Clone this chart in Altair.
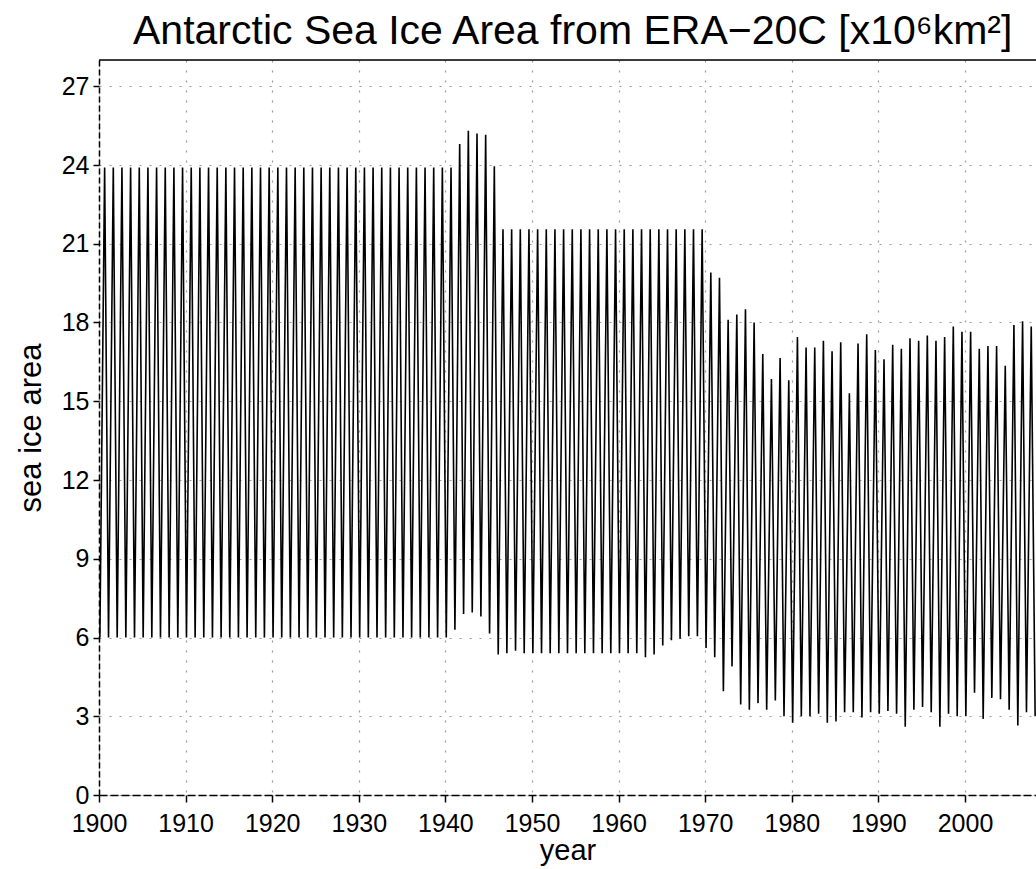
import altair as alt
import pandas as pd

# Annual minimum (Feb) of sea ice area, years 1900..2008
min_years = list(range(1900, 2009))
min_values = [
    6.0, 6.0, 6.0, 6.0, 6.0, 6.0, 6.0, 6.0, 6.0, 6.0,   # 1900-1909
    6.0, 6.0, 6.0, 6.0, 6.0, 6.0, 6.0, 6.0, 6.0, 6.0,   # 1910-1919
    6.0, 6.0, 6.0, 6.0, 6.0, 6.0, 6.0, 6.0, 6.0, 6.0,   # 1920-1929
    6.0, 6.0, 6.0, 6.0, 6.0, 6.0, 6.0, 6.0, 6.0, 6.0,   # 1930-1939
    6.0, 6.3, 6.9, 6.95, 6.8, 6.15, 5.35, 5.4, 5.5, 5.4,  # 1940-1949
    5.4, 5.4, 5.4, 5.4, 5.4, 5.4, 5.4, 5.4, 5.4, 5.4,   # 1950-1959
    5.4, 5.4, 5.4, 5.25, 5.35, 5.7, 5.9, 5.95, 6.05, 6.05,  # 1960-1969
    5.6, 5.25, 3.95, 4.9, 3.45, 3.25, 3.5, 3.25, 3.6, 3.0,  # 1970-1979
    2.75, 3.0, 3.0, 3.1, 2.75, 2.8, 3.15, 3.15, 2.95, 3.15,  # 1980-1989
    3.1, 3.2, 3.1, 2.6, 3.25, 3.35, 3.15, 2.6, 3.1, 3.0,  # 1990-1999
    3.0, 3.9, 2.9, 3.7, 3.65, 3.25, 2.65, 3.15, 3.0,      # 2000-2008
]

# Annual maximum (Aug/Sep) of sea ice area, years 1900..2007
max_years = list(range(1900, 2008))
max_values = [
    23.9, 23.9, 23.9, 23.9, 23.9, 23.9, 23.9, 23.9, 23.9, 23.9,  # 1900-1909
    23.9, 23.9, 23.9, 23.9, 23.9, 23.9, 23.9, 23.9, 23.9, 23.9,  # 1910-1919
    23.9, 23.9, 23.9, 23.9, 23.9, 23.9, 23.9, 23.9, 23.9, 23.9,  # 1920-1929
    23.9, 23.9, 23.9, 23.9, 23.9, 23.9, 23.9, 23.9, 23.9, 23.9,  # 1930-1939
    23.9, 24.8, 25.3, 25.2, 25.15, 23.95, 21.55, 21.55, 21.55, 21.55,  # 1940-1949
    21.55, 21.55, 21.55, 21.55, 21.55, 21.55, 21.55, 21.55, 21.55, 21.55,  # 1950-1959
    21.55, 21.55, 21.55, 21.55, 21.55, 21.55, 21.55, 21.55, 21.55, 21.55,  # 1960-1969
    19.9, 19.7, 18.1, 18.3, 18.5, 18.0, 16.8, 15.85, 16.65, 15.8,  # 1970-1979
    17.45, 17.05, 17.05, 17.3, 16.9, 17.25, 15.3, 17.2, 17.55, 16.95,  # 1980-1989
    16.6, 17.15, 17.0, 17.4, 17.3, 17.5, 17.3, 17.45, 17.85, 17.65,  # 1990-1999
    17.65, 17.0, 17.1, 17.1, 16.35, 17.9, 18.05, 17.85,  # 2000-2007
]

MIN_PHASE = 0.1   # fraction of year when the minimum occurs
MAX_PHASE = 0.65  # fraction of year when the maximum occurs

rows = [{"t": y + MIN_PHASE, "v": v} for y, v in zip(min_years, min_values)]
rows += [{"t": y + MAX_PHASE, "v": v} for y, v in zip(max_years, max_values)]
df = pd.DataFrame(rows).sort_values("t").reset_index(drop=True)

x_ticks = [1900, 1910, 1920, 1930, 1940, 1950, 1960, 1970, 1980, 1990, 2000]
y_ticks = [0, 3, 6, 9, 12, 15, 18, 21, 24, 27]

W, H = 937, 735
FONT = "Liberation Sans"

line = alt.Chart(df).mark_line(color="black", strokeWidth=1.6, clip=True).encode(
    x=alt.X("t:Q",
            scale=alt.Scale(domain=[1900, 2008.2], nice=False, zero=False),
            axis=alt.Axis(values=x_ticks, format="d", title="year",
                          grid=True, gridDash=[2, 8], gridColor="#9a9a9a", gridWidth=1.2,
                          domainColor="black", domainDash=[8, 3], domainWidth=1.5,
                          tickColor="black", tickSize=7, tickWidth=1.5,
                          labelFont=FONT, labelFontSize=25, labelColor="black",
                          labelPadding=9, labelFlush=False,
                          titleFont=FONT, titleFontSize=29, titleFontWeight="normal",
                          titleColor="black", titlePadding=0)),
    y=alt.Y("v:Q",
            scale=alt.Scale(domain=[0, 28], nice=False),
            axis=alt.Axis(values=y_ticks, title="sea ice area",
                          grid=True, gridDash=[2, 8], gridColor="#9a9a9a", gridWidth=1.2,
                          domainColor="black", domainDash=[6, 3], domainWidth=1.5,
                          tickColor="black", tickSize=6, tickWidth=1.5,
                          labelFont=FONT, labelFontSize=25, labelColor="black",
                          labelPadding=4,
                          titleFont=FONT, titleFontSize=31, titleFontWeight="normal",
                          titleColor="black", titlePadding=14)),
)

top_border = alt.Chart(pd.DataFrame({"a": [0]})).mark_rule(color="black", strokeWidth=1.6).encode(
    x=alt.value(0), x2=alt.value(W), y=alt.value(0)
)

chart = alt.layer(line, top_border).properties(
    width=W, height=H,
    title=alt.TitleParams(
        text="Antarctic Sea Ice Area from ERA−20C [x10⁶km²]",
        font=FONT, fontSize=41, fontWeight="normal", color="black",
        anchor="start", frame="group", dx=34, offset=6,
    ),
    autosize=alt.AutoSizeParams(type="none"),
    padding={"left": 99, "top": 60, "right": 0, "bottom": 74},
).configure_view(stroke="transparent").configure(background="white")

chart.save("out.html", embed_options={"renderer": "svg", "actions": False})
